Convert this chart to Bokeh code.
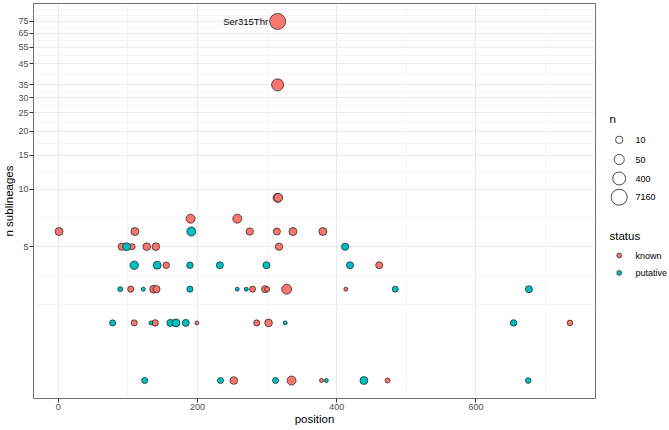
import math
from bokeh.plotting import figure
from bokeh.models import Range1d, FixedTicker, PrintfTickFormatter, ColumnDataSource
from bokeh.layouts import row
from bokeh.embed import file_html
from bokeh.resources import INLINE
from bokeh.core.properties import value

# ---------------- data ----------------
known_position = [315, 315, 315, 316, 190, 257, 1, 110, 275, 314, 337, 380,
                  91, 106, 127, 140, 317, 155, 461,
                  104, 137, 141, 279, 297, 300, 328, 413,
                  109, 139, 199, 285, 302, 735,
                  252, 335, 378, 473]
known_sublineages = [75, 35, 9, 9, 7, 7, 6, 6, 6, 6, 6, 6,
                     5, 5, 5, 5, 5, 4, 4,
                     3, 3, 3, 3, 3, 3, 3, 3,
                     2, 2, 2, 2, 2, 2,
                     1, 1, 1, 1]
known_n = [7160, 200, 25, 20, 25, 25, 14, 14, 10, 9, 14, 14,
           10, 6, 12, 12, 10, 7, 9,
           6, 14, 9, 6, 9, 4, 46, 3,
           6, 7, 3, 6, 12, 5,
           12, 25, 3, 4]

putative_position = [191, 98, 412, 109, 142, 189, 232, 299, 419,
                     89, 122, 189, 257, 270, 484, 676,
                     78, 133, 161, 169, 183, 326, 654,
                     124, 233, 312, 385, 439, 675]
putative_sublineages = [6, 5, 5, 4, 4, 4, 4, 4, 4,
                        3, 3, 3, 3, 3, 3, 3,
                        2, 2, 2, 2, 2, 2, 2,
                        1, 1, 1, 1, 1, 1]
putative_n = [25, 14, 10, 18, 14, 7, 9, 9, 9,
              4, 3, 6, 3, 3, 6, 9,
              6, 3, 9, 14, 9, 3, 7,
              6, 6, 6, 3, 14, 5]

label_text = ["Ser315Thr"]

status_names = ["known", "putative"]
status_colors = ["#F8766D", "#00BFC4"]

size_breaks = [10, 50, 400, 7160]

x_major = [0, 200, 400, 600]
x_minor = [100, 300, 500, 700]
y_major = [5, 10, 15, 20, 25, 30, 35, 45, 55, 65, 75]

FONT = "Liberation Sans"


def marker_size(n):
    return math.sqrt(max(71.0 * math.log10(n) - 18.0, 14.0))


# ---------------- ranges (ggplot-like 5% expansion) ----------------
all_x = known_position + putative_position
all_y = known_sublineages + putative_sublineages
xspan = max(all_x) - min(all_x)
x_lo, x_hi = min(all_x) - 0.05 * xspan, max(all_x) + 0.05 * xspan
ly0, ly1 = math.log(min(all_y)), math.log(max(all_y))
lspan = ly1 - ly0
y_lo, y_hi = math.exp(ly0 - 0.05 * lspan), math.exp(ly1 + 0.05 * lspan)

# minor y grid: geometric means between majors, plus one step beyond each end
lm = [math.log(v) for v in y_major]
y_minor = [math.exp((a + b) / 2) for a, b in zip(lm[:-1], lm[1:])]
d0 = lm[1] - lm[0]
y_minor += [math.exp(lm[0] - d0), math.exp(lm[0] - d0 / 2)]
d1 = lm[-1] - lm[-2]
y_minor += [math.exp(lm[-1] + d1 / 2), math.exp(lm[-1] + d1)]

W_MAIN, W_LEG, H = 597, 72, 430
TOP, BOTTOM = 3, 32          # borders around the plotting frame

# ---------------- main figure ----------------
p = figure(width=W_MAIN, height=H, y_axis_type="log",
           x_range=Range1d(x_lo, x_hi), y_range=Range1d(y_lo, y_hi),
           output_backend="svg", toolbar_location=None,
           min_border_left=30, min_border_right=2, min_border_top=TOP,
           min_border_bottom=BOTTOM)
p.background_fill_color = "white"
p.border_fill_color = "white"
p.outline_line_color = "#6e6e6e"
p.outline_line_width = 1

p.xaxis.ticker = FixedTicker(ticks=x_major, minor_ticks=x_minor)
p.yaxis.ticker = FixedTicker(ticks=y_major, minor_ticks=y_minor)
p.yaxis.formatter = PrintfTickFormatter(format="%d")

for ax in (p.xaxis, p.yaxis):
    ax.axis_line_color = None
    ax.major_tick_line_color = "#333333"
    ax.major_tick_out = 4
    ax.major_tick_in = 0
    ax.minor_tick_line_color = None
    ax.major_label_text_font = FONT
    ax.major_label_text_font_size = "9px"
    ax.major_label_text_color = "#4D4D4D"
    ax.major_label_standoff = 1
    ax.axis_label_text_font = FONT
    ax.axis_label_text_font_size = "11.5px"
    ax.axis_label_text_font_style = "normal"
    ax.axis_label_text_color = "black"
    ax.axis_label_standoff = 0
p.xaxis.axis_label = "position"
p.yaxis.axis_label = "n sublineages"

for g in (p.xgrid, p.ygrid):
    g.grid_line_color = "#EBEBEB"
    g.grid_line_width = 1
    g.minor_grid_line_color = "#F1F1F1"
    g.minor_grid_line_width = 0.8

series = [(known_position, known_sublineages, known_n, status_colors[0]),
          (putative_position, putative_sublineages, putative_n, status_colors[1])]
for xs, ys, ns, col in series:
    src = ColumnDataSource(dict(x=xs, y=ys, s=[marker_size(v) for v in ns]))
    p.scatter("x", "y", size="s", source=src, fill_color=col,
              line_color="#1a1a1a", line_width=0.7)

# label on the most frequent mutation (the top point)
top_i = known_sublineages.index(max(known_sublineages))
p.text(x=[known_position[top_i]], y=[known_sublineages[top_i]], text=label_text,
       x_offset=-(marker_size(known_n[top_i]) / 2 + 1.5),
       text_align="right", text_baseline="middle",
       text_font=value(FONT), text_font_size="9.5px", text_color="black")

# ---------------- legend figure ----------------
# its frame is aligned with the main frame, so map y directly to page pixels
lg = figure(width=W_LEG, height=H, x_range=Range1d(0, W_LEG),
            y_range=Range1d(H - BOTTOM, TOP),
            output_backend="svg", toolbar_location=None,
            min_border_left=0, min_border_right=0,
            min_border_top=TOP, min_border_bottom=BOTTOM,
            x_axis_location=None, y_axis_location=None)
lg.grid.visible = False
lg.outline_line_color = None
lg.background_fill_color = "white"
lg.border_fill_color = "white"

title_x, key_x, lab_x = 12, 21.7, 38
n_title_y = 118
n_key_y = [139.3, 159, 178, 196.7]
st_title_y = 235
st_key_y = [255, 272.5]

lg.text(x=[title_x, title_x], y=[n_title_y, st_title_y], text=["n", "status"],
        text_font=value(FONT), text_font_size="11.5px", text_color="black",
        text_baseline="middle", text_align="left")
lg.scatter(x=[key_x] * len(size_breaks), y=n_key_y,
           size=[marker_size(v) for v in size_breaks],
           fill_color="white", line_color="#1a1a1a", line_width=0.8)
lg.text(x=[lab_x] * len(size_breaks), y=n_key_y, text=[str(v) for v in size_breaks],
        text_font=value(FONT), text_font_size="9px", text_color="black",
        text_baseline="middle", text_align="left")
lg.scatter(x=[key_x] * len(status_names), y=st_key_y, size=4.8,
           fill_color=status_colors, line_color="#1a1a1a", line_width=0.7)
lg.text(x=[lab_x] * len(status_names), y=st_key_y, text=status_names,
        text_font=value(FONT), text_font_size="9px", text_color="black",
        text_baseline="middle", text_align="left")

layout = row(p, lg)
open("out.html", "w").write(file_html(layout, INLINE))
